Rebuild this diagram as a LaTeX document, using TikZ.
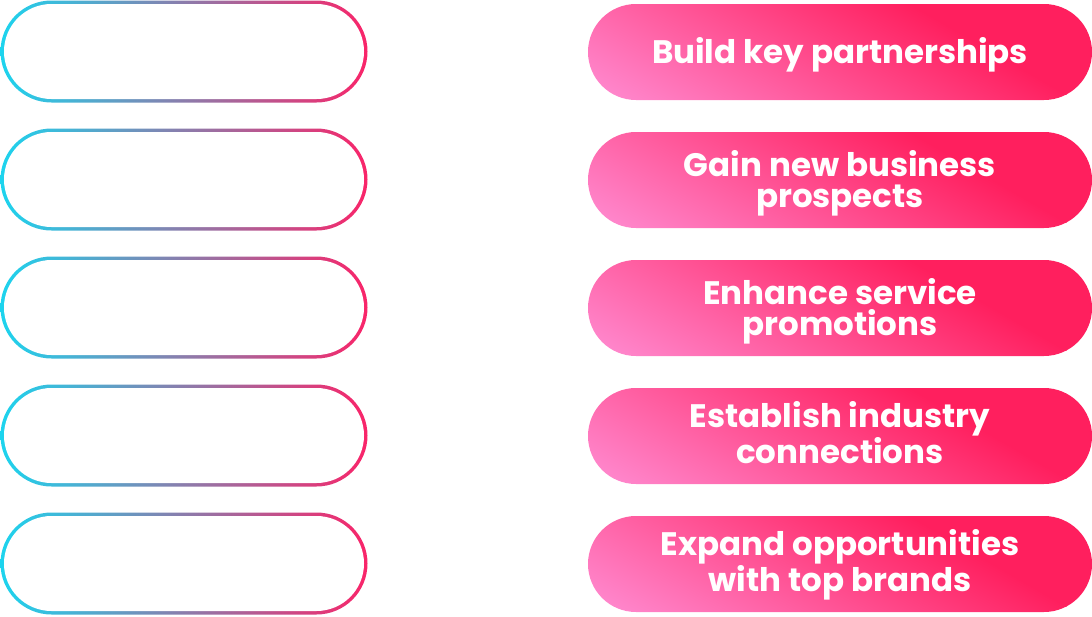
\documentclass[tikz,border=0pt]{standalone}
\usepackage{fontspec}
\setmainfont{Poppins}
\usetikzlibrary{shapes.misc,calc}
\definecolor{slotcyan}{HTML}{1CD4EE}
\definecolor{slotpink}{HTML}{FA2469}
\definecolor{taglight}{HTML}{FF8DD3}
\definecolor{taghot}{HTML}{FF1F5E}

\begin{document}
\begin{tikzpicture}[
  x=1pt,
  y=-1pt,
  slotrim/.style={rounded rectangle,inner sep=0pt,minimum width=367pt,minimum height=102pt,
    left color=slotcyan,right color=slotpink,draw=none},
  slothole/.style={rounded rectangle,inner sep=0pt,minimum width=360pt,minimum height=95pt,
    fill=white,draw=none},
  % diagonal fill: light at the lower left, hot pink towards the upper right
  tagpill/.style={rounded rectangle,inner sep=0pt,minimum width=504pt,minimum height=96pt,
    draw=none,text=white,align=center,font=\fontsize{32.5}{31}\selectfont\bfseries,
    text depth=0pt,
    path picture={
      \coordinate (tagmid) at (path picture bounding box.center);
      \begin{scope}[transform canvas={rotate around={-30:(tagmid)}}]
        \fill[taglight] ($(tagmid)+(-320pt,-320pt)$) rectangle ($(tagmid)+(320pt,-166pt)$);
        \shade[bottom color=taglight,top color=taghot]
          ($(tagmid)+(-320pt,-167pt)$) rectangle ($(tagmid)+(320pt,77pt)$);
        \fill[taghot] ($(tagmid)+(-320pt,76pt)$) rectangle ($(tagmid)+(320pt,320pt)$);
      \end{scope}
    }}
]
  \useasboundingbox (0,0) rectangle (1092,616);

  % Left column: empty slots with a cyan-to-pink rim; right column: filled tags.
  \foreach \row/\txt/\nl in {
    1/{Build key partnerships}/0,
    2/{Gain new business\\prospects}/1,
    3/{Enhance service\\promotions}/1,
    4/{Establish industry\\connections}/1,
    5/{Expand opportunities\\with top brands}/1} {
    \pgfmathsetmacro\ymid{51.5+128*(\row-1)}
    \pgfmathsetmacro\thgt{23+31*\nl}
    \node[slotrim] (slot\row) at (184,\ymid) {};
    \node[slothole] (hole\row) at (slot\row.center) {};
    \node[tagpill,text height=\thgt pt] (tag\row) at (840,\ymid+0.5) {\txt};
  }
\end{tikzpicture}
\end{document}
